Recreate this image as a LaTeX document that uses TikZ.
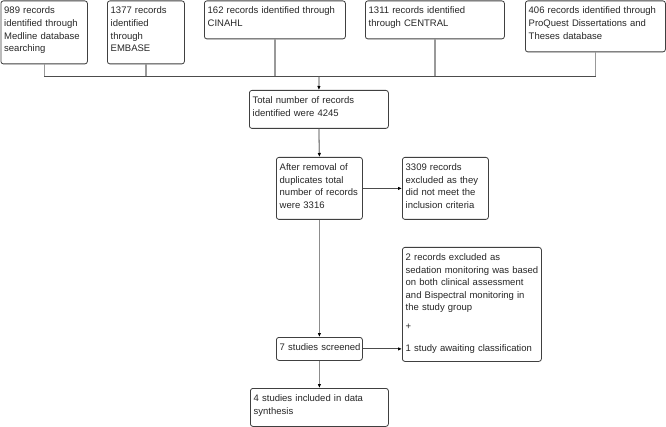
\documentclass[tikz,border=0pt]{standalone}
\usepackage{fontspec}
\setmainfont{Liberation Sans}
\usetikzlibrary{arrows.meta,calc}
\tikzset{
  boxr/.style={draw=black!75, rounded corners=2.5pt, line width=0.8pt, anchor=north west, inner sep=0pt},
  txt/.style={anchor=base west, inner sep=0pt, align=left,
    font=\fontsize{9.5}{12.6}\selectfont, text=black!85},
  feed/.style={draw=black!40, line width=1.3pt},
  busline/.style={draw=black!70, line width=1pt},
  arr/.style={draw=black!45, line width=1.3pt, -{Latex[length=4pt,width=3.5pt,black]}},
  harr/.style={draw=black!70, line width=0.9pt, -{Latex[length=4pt,width=3.5pt,black]}}
}
% #1 name, #2 x, #3 y, #4 width, #5 height, #6 text
\newcommand\flowbox[6]{%
  \node[boxr, minimum width=#4pt, minimum height=#5pt] (#1) at (#2,#3) {};
  \node[txt, text width=#4pt] (#1t) at ($(#1.north west)+(3.5,13.5)$) {#6};
}
\begin{document}
\begin{tikzpicture}[x=1pt,y=-1pt]
\useasboundingbox (0,0) rectangle (666,427);
\fill[white] (0,0) rectangle (666,427);

\flowbox{b1}{0.5}{0.5}{86.5}{63}{989 records\\identified through\\Medline database\\searching}
\flowbox{b2}{107}{0.5}{77}{63}{1377 records\\identified\\through\\EMBASE}
\flowbox{b3}{204}{0.5}{141}{38}{162 records identified through\\CINAHL}
\flowbox{b4}{365}{0.5}{139}{38}{1311 records identified\\through CENTRAL}
\flowbox{b5}{525}{0.5}{140}{51}{406 records identified through\\ProQuest Dissertations and\\Theses database}

\coordinate (busL) at (44,77);
\coordinate (busR) at (596,77);
\coordinate (busM) at (319,77);

\flowbox{tot}{249}{90}{139}{38}{Total number of records\\identified were 4245}
\flowbox{dup}{276}{157}{86}{62}{After removal of\\duplicates total\\number of records\\were 3316}
\flowbox{ex1}{402}{157}{86}{62}{3309 records\\excluded as they\\did not meet the\\inclusion criteria}
\flowbox{ex2}{402}{247}{139}{114}{2 records excluded as\\sedation monitoring was based\\on both clinical assessment\\and Bispectral monitoring in\\the study group\\[6.5pt]+\\[8.5pt]1 study awaiting classification}
\flowbox{scr}{276}{337}{86}{23}{7 studies screened}
\flowbox{inc}{250}{388}{138}{38}{4 studies included in data\\synthesis}

\foreach \b in {b1,b2,b3,b4,b5}
  \draw[feed] (\b.south) -- (\b.south |- busL);
\draw[busline] (busL) -- (busR);
\draw[arr] (busM) -- (tot.north);
\draw[arr] (tot.south) -- (dup.north);
\draw[harr] (dup.east) -- (ex1.west);
\draw[arr] (dup.south) -- (scr.north);
\draw[harr] (scr.east) -- (scr.east -| ex2.west);
\draw[arr] (scr.south) -- (scr.south |- inc.north);
\end{tikzpicture}
\end{document}
